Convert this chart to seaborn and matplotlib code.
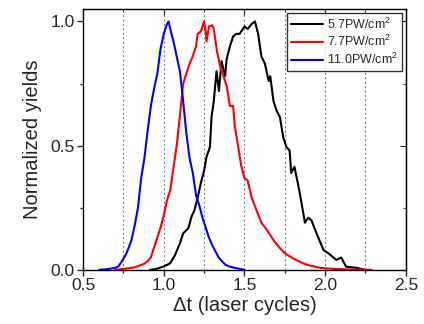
import numpy as np
import pandas as pd
import matplotlib
matplotlib.use("Agg")
import matplotlib.pyplot as plt
import seaborn as sns
from matplotlib.ticker import MultipleLocator

# values
t_57 = [0.915, 0.95, 0.997, 1.02, 1.04, 1.07, 1.10, 1.12, 1.152, 1.172, 1.19, 1.21, 1.23, 1.25,
        1.265, 1.286, 1.296, 1.31, 1.327, 1.342, 1.358, 1.38, 1.39, 1.41, 1.43, 1.45, 1.47, 1.50,
        1.52, 1.545, 1.565, 1.585, 1.605, 1.627, 1.65, 1.66, 1.68, 1.70, 1.72, 1.74, 1.76, 1.78,
        1.79, 1.81, 1.84, 1.875, 1.895, 1.915, 1.947, 1.99, 2.02, 2.07, 2.10, 2.13, 2.20, 2.246]
y_57 = [0.0, 0.003, 0.013, 0.02, 0.027, 0.06, 0.107, 0.147, 0.167, 0.214, 0.24, 0.29, 0.35, 0.40,
        0.455, 0.495, 0.615, 0.68, 0.80, 0.72, 0.84, 0.78, 0.85, 0.90, 0.94, 0.95, 0.95, 0.98,
        0.97, 0.99, 1.0, 0.95, 0.86, 0.83, 0.76, 0.78, 0.68, 0.64, 0.615, 0.535, 0.495, 0.48,
        0.39, 0.415, 0.32, 0.19, 0.21, 0.20, 0.147, 0.08, 0.067, 0.04, 0.05, 0.013, 0.008, 0.0]

t_77 = [0.70, 0.76, 0.82, 0.86, 0.88, 0.90, 0.92, 0.94, 0.96, 0.98, 1.00, 1.02, 1.04, 1.06, 1.08,
        1.10, 1.12, 1.14, 1.16, 1.18, 1.20, 1.21, 1.23, 1.24, 1.25, 1.26, 1.265, 1.28, 1.30, 1.31,
        1.33, 1.35, 1.37, 1.39, 1.41, 1.43, 1.44, 1.46, 1.48, 1.50, 1.52, 1.545, 1.575, 1.605,
        1.64, 1.68, 1.71, 1.75, 1.80, 1.85, 1.89, 1.97, 2.05, 2.15, 2.29]
y_77 = [0.0, 0.005, 0.01, 0.02, 0.025, 0.035, 0.05, 0.09, 0.13, 0.17, 0.22, 0.28, 0.32, 0.41, 0.50,
        0.62, 0.75, 0.79, 0.83, 0.86, 0.90, 0.95, 0.96, 0.98, 1.0, 0.96, 0.92, 0.98, 0.985, 0.97,
        0.88, 0.82, 0.78, 0.74, 0.66, 0.66, 0.58, 0.50, 0.42, 0.37, 0.36, 0.29, 0.24, 0.19,
        0.16, 0.12, 0.095, 0.067, 0.047, 0.03, 0.02, 0.008, 0.004, 0.002, 0.0]

t_110 = [0.60, 0.65, 0.70, 0.72, 0.74, 0.76, 0.78, 0.80, 0.82, 0.84, 0.86, 0.88, 0.90, 0.92, 0.94,
         0.96, 0.98, 1.00, 1.02, 1.03, 1.04, 1.06, 1.08, 1.10, 1.12, 1.14, 1.16, 1.18, 1.20, 1.22,
         1.24, 1.26, 1.28, 1.30, 1.32, 1.34, 1.36, 1.38, 1.40, 1.44, 1.48, 1.50]
y_110 = [0.0, 0.003, 0.008, 0.015, 0.035, 0.055, 0.085, 0.12, 0.18, 0.25, 0.37, 0.45, 0.56, 0.66, 0.73,
         0.79, 0.89, 0.95, 0.99, 1.0, 0.97, 0.92, 0.86, 0.80, 0.68, 0.55, 0.45, 0.39, 0.30, 0.26,
         0.21, 0.17, 0.13, 0.10, 0.075, 0.05, 0.035, 0.022, 0.015, 0.008, 0.003, 0.0]

labels = ["5.7PW/cm$^2$", "7.7PW/cm$^2$", "11.0PW/cm$^2$"]
colors = ["black", "red", "blue"]
xticks = [0.5, 1.0, 1.5, 2.0, 2.5]
yticks = [0.0, 0.5, 1.0]

sns.set_style("ticks")
plt.rcParams['font.family'] = ['Liberation Sans', 'DejaVu Sans']
plt.rcParams['mathtext.fontset'] = 'custom'
plt.rcParams['mathtext.rm'] = 'Liberation Sans'
plt.rcParams['mathtext.default'] = 'regular'

fig = plt.figure(figsize=(4.24, 3.24), dpi=100)
ax = fig.add_axes([0.196, 0.167, 0.761, 0.805])

for t, y, lab, c in zip([t_57, t_77, t_110], [y_57, y_77, y_110], labels, colors):
    sns.lineplot(x=t, y=y, ax=ax, color=c, lw=1.5, label=lab, sort=False)

ax.set_xlim(0.5, 2.5)
ax.set_ylim(0, 1.05)
ax.set_xticks(xticks)
ax.set_xticklabels([f"{v:.1f}" for v in xticks])
ax.set_yticks(yticks)
ax.set_yticklabels([f"{v:.1f}" for v in yticks])
ax.xaxis.set_minor_locator(MultipleLocator(0.25))
ax.yaxis.set_minor_locator(MultipleLocator(0.25))

for v in [0.75, 1.0, 1.25, 1.5, 1.75, 2.0, 2.25]:
    ax.axvline(v, color="gray", ls=(0, (2, 2)), lw=0.8, zorder=0)

# bottom/left ticks point out, top/right ticks point in
ax.tick_params(which="both", direction="out", width=1, labelsize=12.5, pad=2)
ax.tick_params(which="major", length=4)
ax.tick_params(which="minor", length=2)
top = ax.secondary_xaxis("top")
top.set_xticks(xticks)
top.xaxis.set_minor_locator(MultipleLocator(0.25))
top.tick_params(which="both", direction="in", labeltop=False)
top.tick_params(which="major", length=4)
top.tick_params(which="minor", length=2)
right = ax.secondary_yaxis("right")
right.set_yticks(yticks)
right.yaxis.set_minor_locator(MultipleLocator(0.25))
right.tick_params(which="both", direction="in", labelright=False)
right.tick_params(which="major", length=4)
right.tick_params(which="minor", length=2)
for sp in ax.spines.values():
    sp.set_linewidth(1.0)
    sp.set_color("black")

ax.set_xlabel("Δt (laser cycles)", fontsize=14.5, labelpad=2)
ax.set_ylabel("Normalized yields", fontsize=14.5, labelpad=6)

leg = ax.legend(loc="upper right", fontsize=9, frameon=True, fancybox=False,
                edgecolor="black", handlelength=2.6, handletextpad=0.3,
                borderaxespad=0.3, labelspacing=0.2, borderpad=0.3)
leg.get_frame().set_linewidth(1.0)

fig.savefig("out.png", dpi=100)
